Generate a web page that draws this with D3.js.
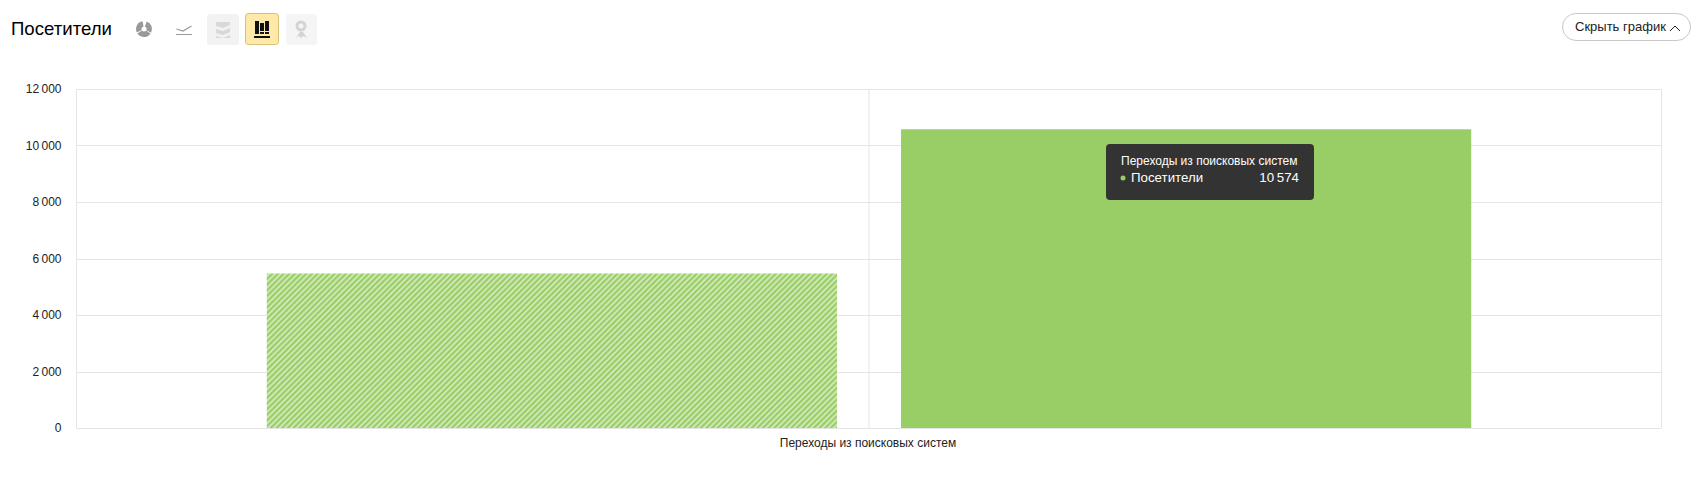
<!DOCTYPE html>
<html>
<head>
<meta charset="utf-8">
<script src="https://cdn.jsdelivr.net/npm/d3@7"></script>
<style>
html, body { margin: 0; padding: 0; background: #fff; overflow: hidden; }
text { font-family: Arial, "Liberation Sans", sans-serif; }
</style>
</head>
<body>
<div id="chart"></div>
<script>
const categories = ['Переходы из поисковых систем'];
const seriesName = 'Посетители';
const periods = ['previous', 'current'];
const previousValues = [5470];
const currentValues = [10574];
const yTicks = [0, 2000, 4000, 6000, 8000, 10000, 12000];

const width = 1703, height = 482;
const margin = {top: 89, right: 41.5, bottom: 54, left: 76.5};
const innerW = width - margin.left - margin.right;
const innerH = height - margin.top - margin.bottom;

const fmt = d => String(d).replace(/\B(?=(\d{3})+$)/g, '\u2009');

const svg = d3.select('#chart').append('svg')
    .attr('width', width)
    .attr('height', height)
    .style('display', 'block');

// hatch for the comparison bar
const defs = svg.append('defs');
defs.append('pattern')
    .attr('id', 'hatch')
    .attr('patternUnits', 'userSpaceOnUse')
    .attr('width', 4)
    .attr('height', 4)
    .attr('patternTransform', 'rotate(45)')
    .call(p => {
        p.append('rect').attr('width', 4).attr('height', 4).attr('fill', '#d6ebc0');
        p.append('rect').attr('width', 2.3).attr('height', 4).attr('fill', '#99ce66');
    });

const g = svg.append('g').attr('transform', `translate(${margin.left},${margin.top})`);

const y = d3.scaleLinear().domain([0, 12000]).range([innerH, 0]);
const x = d3.scaleBand()
    .domain(periods)
    .range([0, innerW])
    .paddingInner(0.101)
    .paddingOuter(0.3);

// frame and gridlines
g.append('g').selectAll('line')
    .data(yTicks)
    .enter()
    .append('line')
    .attr('x1', 0)
    .attr('x2', innerW)
    .attr('y1', d => Math.round(y(d)) + 0.5)
    .attr('y2', d => Math.round(y(d)) + 0.5)
    .attr('stroke', '#e5e5e5');

[0, innerW / 2, innerW].forEach(px => {
    g.append('line')
        .attr('x1', px).attr('x2', px)
        .attr('y1', 0).attr('y2', innerH)
        .attr('stroke', '#e5e5e5');
});

// bars
g.append('rect')
    .attr('x', x('previous'))
    .attr('y', y(previousValues[0]))
    .attr('width', x.bandwidth())
    .attr('height', innerH - y(previousValues[0]))
    .attr('fill', 'url(#hatch)');

g.append('rect')
    .attr('x', x('current'))
    .attr('y', y(currentValues[0]))
    .attr('width', x.bandwidth())
    .attr('height', innerH - y(currentValues[0]))
    .attr('fill', '#99ce66');

// y axis labels
g.append('g').selectAll('text')
    .data(yTicks)
    .enter()
    .append('text')
    .attr('x', -15)
    .attr('y', d => y(d) + 4)
    .attr('text-anchor', 'end')
    .style('font-size', '12px')
    .attr('fill', '#222')
    .text(fmt);

// category label
g.append('text')
    .attr('x', innerW / 2 - 1)
    .attr('y', innerH + 19)
    .attr('text-anchor', 'middle')
    .style('font-size', '12px')
    .attr('fill', '#222')
    .text(categories[0]);

// tooltip
const tip = svg.append('g').attr('transform', 'translate(1106,144)');
tip.append('rect')
    .attr('width', 208)
    .attr('height', 56)
    .attr('rx', 4)
    .attr('fill', '#333');
tip.append('text')
    .attr('x', 15)
    .attr('y', 21)
    .style('font-size', '12px')
    .attr('fill', '#fff')
    .text(categories[0]);
tip.append('circle')
    .attr('cx', 17)
    .attr('cy', 34)
    .attr('r', 2.5)
    .attr('fill', '#99ce66');
tip.append('text')
    .attr('x', 25)
    .attr('y', 38)
    .style('font-size', '13.3px')
    .attr('fill', '#fff')
    .text(seriesName);
tip.append('text')
    .attr('x', 193)
    .attr('y', 38)
    .attr('text-anchor', 'end')
    .style('font-size', '13.3px')
    .attr('fill', '#fff')
    .text(fmt(currentValues[0]));

// header
svg.append('text')
    .attr('x', 11)
    .attr('y', 35)
    .style('font-size', '18.6px')
    .attr('fill', '#000')
    .text(seriesName);

// chart type buttons
const icons = svg.append('g');

// pie
const pieArc = d3.arc().innerRadius(2.5).outerRadius(8);
[[0.35, 2.05], [2.2, 4.1], [4.25, 6.1]].forEach(a => {
    icons.append('path')
        .attr('transform', 'translate(144,29)')
        .attr('d', pieArc({startAngle: a[0], endAngle: a[1]}))
        .attr('fill', '#999');
});
// line
icons.append('path').attr('d', 'M176.5 29 L183 31 L191.5 26').attr('fill', 'none').attr('stroke', '#999').attr('stroke-width', 1.2);
icons.append('path').attr('d', 'M176 34.5 H192').attr('stroke', '#999').attr('stroke-width', 1);
// area (disabled)
icons.append('rect').attr('x', 207).attr('y', 14).attr('width', 32).attr('height', 31).attr('rx', 3).attr('fill', '#f2f2f2');
icons.append('path').attr('d', 'M216 22 h14 v3 l-7 3 l-7 -2 z M216 29 l7 2 l7 -3 v4 l-7 3 l-7 -2 z M216 36 l7 2 l7 -3 v3 h-14 z').attr('fill', '#d8d8d8');
// bars (active)
icons.append('rect').attr('x', 245.5).attr('y', 13.5).attr('width', 33).attr('height', 31).attr('rx', 3).attr('fill', '#ffe9a8').attr('stroke', '#d9c077');
icons.append('path').attr('d', 'M255 21 h4 v13 h-4 z M260 23 h4 v8 h-4 z M260 32 h4 v2 h-4 z M265 21 h4 v10 h-4 z M265 32 h4 v2 h-4 z M254 36 h16 v2 h-16 z').attr('fill', '#111');
// map (disabled)
icons.append('rect').attr('x', 286).attr('y', 14).attr('width', 31).attr('height', 31).attr('rx', 3).attr('fill', '#f5f5f5');
icons.append('circle').attr('cx', 301).attr('cy', 26).attr('r', 4).attr('fill', 'none').attr('stroke', '#d4d4d4').attr('stroke-width', 3);
icons.append('path').attr('d', 'M296 38 L300 32 L303 32 L307 38 L303 36 L301 38 L299 36 Z').attr('fill', '#d4d4d4');

// hide chart button
svg.append('rect')
    .attr('x', 1562.5).attr('y', 13.5)
    .attr('width', 128).attr('height', 27)
    .attr('rx', 13.5)
    .attr('fill', '#fff')
    .attr('stroke', '#c8c8c8');
svg.append('text')
    .attr('x', 1575)
    .attr('y', 31)
    .style('font-size', '13px')
    .attr('fill', '#222')
    .text('Скрыть график');
svg.append('path')
    .attr('d', 'M1670 31 L1675 26 L1680 31')
    .attr('fill', 'none')
    .attr('stroke', '#222');
</script>
</body>
</html>
